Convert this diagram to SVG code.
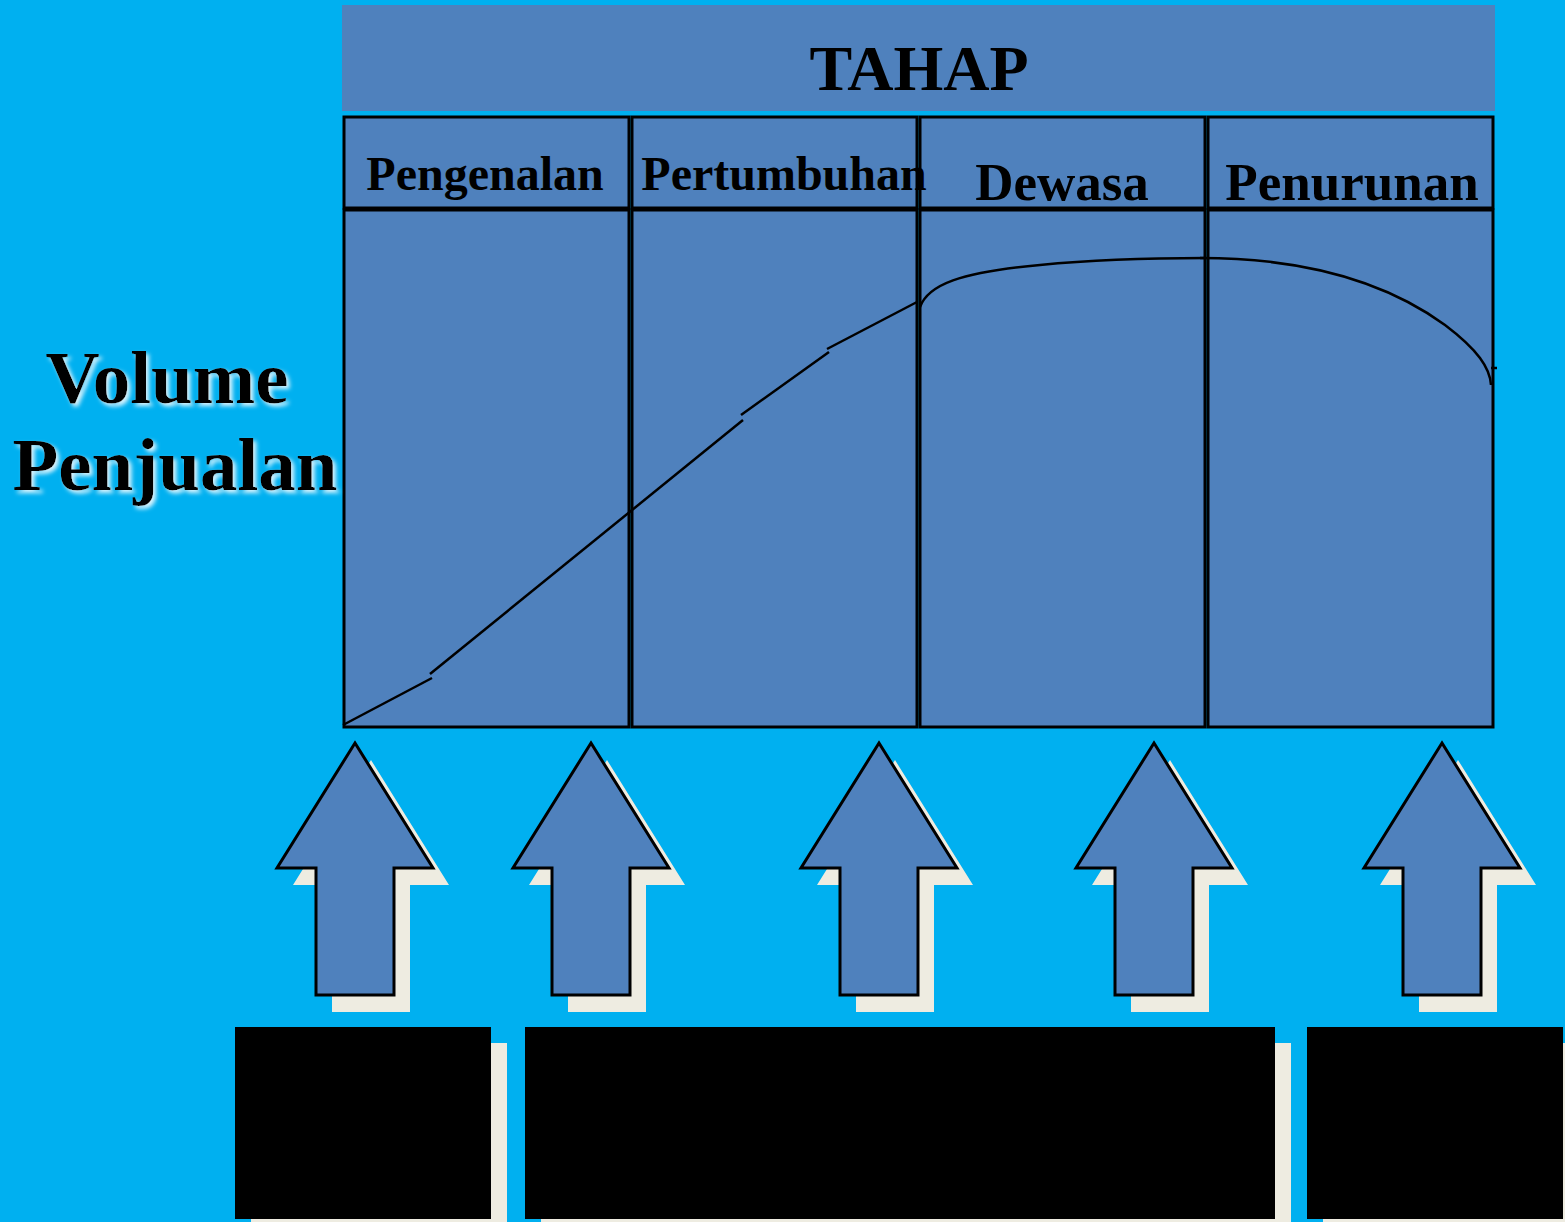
<svg xmlns="http://www.w3.org/2000/svg" width="1565" height="1222" viewBox="0 0 1565 1222">
<defs>
<style>
.cell{fill:#4F81BD;stroke:#000;stroke-width:3}
.hdr{font-family:"Liberation Serif",serif;font-weight:bold;fill:#000;text-anchor:middle}
.curve{fill:none;stroke:#000;stroke-width:2.5}
.shadow{fill:#EEECE1}
.arrow{fill:#4F81BD;stroke:#000;stroke-width:3}
.blk{fill:#000}
</style>
<filter id="glow" x="-10%" y="-20%" width="130%" height="150%">
<feDropShadow dx="3" dy="3" stdDeviation="2" flood-color="#ffffff" flood-opacity="0.85"/>
</filter>
<path id="arr" d="M0,0 L78,125 L39,125 L39,252 L-39,252 L-39,125 L-78,125 Z"/>
</defs>
<rect width="1565" height="1222" fill="#00B0F0"/>

<g id="tahap">
<rect x="342" y="5" width="1153" height="106" fill="#4F81BD"/>
<text class="hdr" x="919" y="90" font-size="64">TAHAP</text>
</g>

<g id="col-pengenalan">
<rect class="cell" x="344" y="117" width="285" height="91"/>
<rect class="cell" x="344" y="210" width="285" height="517"/>
<text class="hdr" x="485" y="190" font-size="48">Pengenalan</text>
</g>
<g id="col-dewasa">
<rect class="cell" x="920" y="117" width="285" height="91"/>
<rect class="cell" x="920" y="210" width="285" height="517"/>
<text class="hdr" x="1062" y="200" font-size="53">Dewasa</text>
</g>
<g id="col-pertumbuhan">
<rect class="cell" x="632" y="117" width="285" height="91"/>
<rect class="cell" x="632" y="210" width="285" height="517"/>
<text class="hdr" x="784" y="190" font-size="48">Pertumbuhan</text>
</g>
<g id="col-penurunan">
<rect class="cell" x="1208" y="117" width="285" height="91"/>
<rect class="cell" x="1208" y="210" width="285" height="517"/>
<text class="hdr" x="1352" y="200" font-size="53">Penurunan</text>
</g>

<g id="ylabel" filter="url(#glow)">
<text class="hdr" x="167" y="403" font-size="75">Volume</text>
<text class="hdr" x="175" y="490" font-size="75">Penjualan</text>
</g>

<g id="connectors">
<path class="curve" d="M343,725 L432,678"/>
<path class="curve" d="M430,674 L743,420"/>
<path class="curve" d="M741,415 L829,352"/>
<path class="curve" d="M827,349 L917,302"/>
<path class="curve" d="M920,307 C928,285 960,272 1040,265 C1100,259 1160,258 1205,258"/>
<path class="curve" d="M1200,258 C1310,258 1390,285 1445,325 C1478,350 1490,368 1491,385"/>
<path class="curve" d="M1491,368 L1497,368"/>
</g>

<g id="arrows">
<g id="arrow1">
<use href="#arr" class="shadow" transform="translate(371,760)"/>
<use href="#arr" class="arrow" transform="translate(355,743)"/>
</g>
<g id="arrow2">
<use href="#arr" class="shadow" transform="translate(607,760)"/>
<use href="#arr" class="arrow" transform="translate(591,743)"/>
</g>
<g id="arrow3">
<use href="#arr" class="shadow" transform="translate(895,760)"/>
<use href="#arr" class="arrow" transform="translate(879,743)"/>
</g>
<g id="arrow4">
<use href="#arr" class="shadow" transform="translate(1170,760)"/>
<use href="#arr" class="arrow" transform="translate(1154,743)"/>
</g>
<g id="arrow5">
<use href="#arr" class="shadow" transform="translate(1458,760)"/>
<use href="#arr" class="arrow" transform="translate(1442,743)"/>
</g>
</g>

<g id="box1">
<rect class="shadow" x="251" y="1043" width="256" height="192"/>
<rect class="blk" x="235" y="1027" width="256" height="192"/>
</g>
<g id="box2">
<rect class="shadow" x="541" y="1043" width="750" height="192"/>
<rect class="blk" x="525" y="1027" width="750" height="192"/>
</g>
<g id="box3">
<rect class="shadow" x="1323" y="1043" width="256" height="192"/>
<rect class="blk" x="1307" y="1027" width="256" height="192"/>
</g>
</svg>
